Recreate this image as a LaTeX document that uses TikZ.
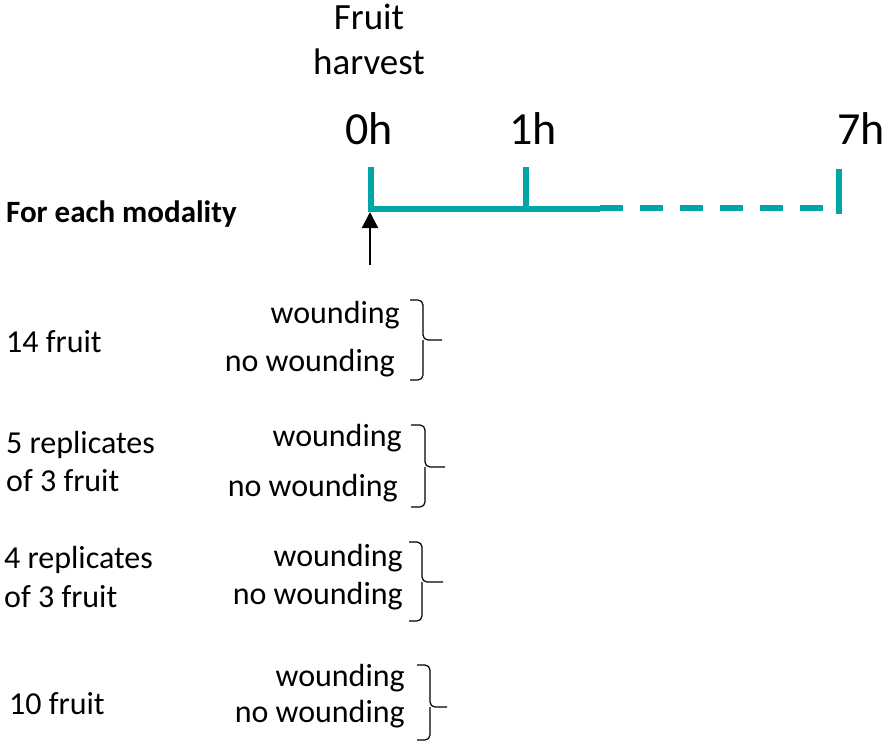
\documentclass[tikz,border=0pt]{standalone}
\usepackage{fontspec}
\setmainfont{Carlito}
\usetikzlibrary{arrows.meta}

\definecolor{timeteal}{RGB}{0,165,166}

\tikzset{
    txt/.style={inner sep=0pt, font=\fontsize{32}{38}\selectfont},
    hour/.style={inner sep=0pt, anchor=base, font=\fontsize{46}{54}\selectfont},
    axis/.style={timeteal, line width=6pt},
    grpbrace/.style={line width=1.2pt, rounded corners=5pt},
}

\begin{document}
\begin{tikzpicture}[x=1pt,y=-1pt]
    \useasboundingbox (0,0) rectangle (886,750);

    % harvest and hours
    \node[txt, anchor=base, font=\fontsize{37}{45}\selectfont] (fruit) at (369,29) {Fruit};
    \node[txt, anchor=base, font=\fontsize{37}{45}\selectfont] (harvest) at (369,74) {harvest};
    \node[hour] (h0) at (369,144) {0h};
    \node[hour] (h1) at (533,144) {1h};
    \node[hour] (h7) at (861,144) {7h};

    % time line
    \draw[axis] (371,167) -- (371,209) -- (600,209);
    \draw[axis] (526,167) -- (526,209);
    \draw[axis, dash pattern=on 23pt off 17pt] (600,208) -- (823,208);
    \draw[axis] (839,169) -- (839,214);

    \coordinate (t0) at (370,212);
    \coordinate (foot) at (370,265);
    \draw[line width=2.2pt, -{Triangle[width=16pt,length=16pt]}] (foot) -- (t0);

    \node[txt, anchor=base west, font=\bfseries\fontsize{31}{38}\selectfont] (modality) at (6,222) {For each modality};

    % groups
    \node[txt, anchor=base west] (g1) at (6,352) {14 fruit};
    \node[txt, anchor=base west] (g2a) at (6,453) {5 replicates};
    \node[txt, anchor=base west] (g2b) at (6,491) {of 3 fruit};
    \node[txt, anchor=base west] (g3a) at (4,568) {4 replicates};
    \node[txt, anchor=base west] (g3b) at (4,607) {of 3 fruit};
    \node[txt, anchor=base west] (g4) at (9,714) {10 fruit};

    \node[txt, anchor=base east] (w1) at (400,323) {wounding};
    \node[txt, anchor=base east] (nw1) at (395,371) {no wounding};
    \node[txt, anchor=base east] (w2) at (402,446) {wounding};
    \node[txt, anchor=base east] (nw2) at (398,496) {no wounding};
    \node[txt, anchor=base east] (w3) at (403,566) {wounding};
    \node[txt, anchor=base east] (nw3) at (403,604) {no wounding};
    \node[txt, anchor=base east] (w4) at (405,686) {wounding};
    \node[txt, anchor=base east] (nw4) at (405,722) {no wounding};

    % braces
    \draw[grpbrace] (410,300) -- (423,300) -- (423,340) -- (442,340);
    \draw[grpbrace] (423,340) -- (423,380) -- (410,380);
    \draw[grpbrace] (411,425) -- (425,425) -- (425,467) -- (445,467);
    \draw[grpbrace] (425,467) -- (425,507) -- (411,507);
    \draw[grpbrace] (409,542) -- (422,542) -- (422,582) -- (443,582);
    \draw[grpbrace] (422,582) -- (422,621) -- (409,621);
    \draw[grpbrace] (417,665) -- (430,665) -- (430,707) -- (447,707);
    \draw[grpbrace] (430,707) -- (430,740) -- (417,740);
\end{tikzpicture}
\end{document}
